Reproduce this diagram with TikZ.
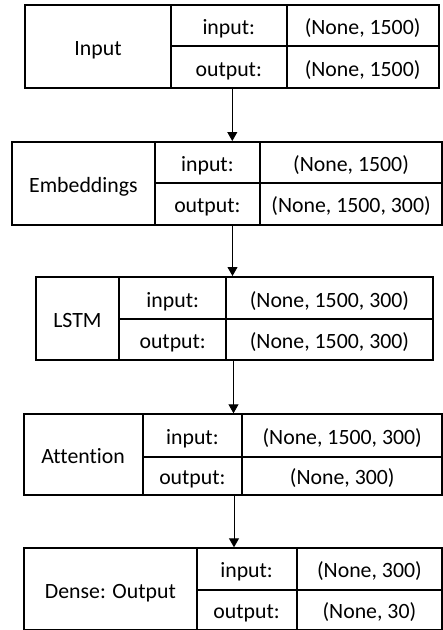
\documentclass[tikz,border=0pt]{standalone}
\usepackage{fontspec}
\setmainfont[Ligatures=NoCommon]{Carlito}
\usetikzlibrary{arrows.meta}
\tikzset{
  cell/.style={draw, line width=1.8pt, inner sep=0pt, anchor=north west,
    text height=20pt, text depth=2pt,
    font=\fontsize{21.8pt}{24pt}\selectfont},
  flow/.style={line width=0.9pt, -{Triangle[width=10pt,length=9pt]}}
}
% #1 id, #2 left, #3 div1, #4 div2, #5 right, #6 top, #7 mid, #8 bottom, #9 name
\newcommand\mylayer[9]{%
  \node[cell, minimum width=#3pt-#2pt, minimum height=#8pt-#6pt] (#1) at (#2pt,-#6pt) {#9};
  \node[cell, minimum width=#4pt-#3pt, minimum height=#7pt-#6pt] (#1-il) at (#3pt,-#6pt) {input:};
  \node[cell, minimum width=#5pt-#4pt, minimum height=#7pt-#6pt] (#1-iv) at (#4pt,-#6pt) {\vin};
  \node[cell, minimum width=#4pt-#3pt, minimum height=#8pt-#7pt] (#1-ol) at (#3pt,-#7pt) {output:};
  \node[cell, minimum width=#5pt-#4pt, minimum height=#8pt-#7pt] (#1-ov) at (#4pt,-#7pt) {\vout};
}
\begin{document}
\begin{tikzpicture}
\useasboundingbox (0,0) rectangle (443pt,-630pt);
\def\vin{(None, 1500)}\def\vout{(None, 1500)}
\mylayer{inp}{24.3}{170}{285.7}{437.7}{4}{45}{87.3}{Input}
\def\vin{(None, 1500)}\def\vout{(None, 1500, 300)}
\mylayer{emb}{11}{154}{259}{441.3}{141}{182}{223.7}{Embeddings}
\def\vin{(None, 1500, 300)}\def\vout{(None, 1500, 300)}
\mylayer{lstm}{34.7}{118.3}{225.3}{431.7}{276}{318.3}{359.3}{LSTM}
\def\vin{(None, 1500, 300)}\def\vout{(None, 300)}
\mylayer{att}{22.7}{141.7}{241.3}{441.3}{413.3}{455.7}{494}{Attention}
\def\vin{(None, 300)}\def\vout{(None, 30)}
\mylayer{den}{23.3}{195.7}{295.7}{441.3}{547.3}{588.7}{629}{Dense: Output}
\coordinate (x1) at (232.3pt,0);
\coordinate (x2) at (232.5pt,0);
\coordinate (x3) at (233.5pt,0);
\coordinate (x4) at (234pt,0);
\draw[flow] (inp-ol.south -| x1) -- (emb-il.north -| x1);
\draw[flow] (emb-ol.south -| x2) -- (lstm-iv.north -| x2);
\draw[flow] (lstm-ov.south -| x3) -- (att-il.north -| x3);
\draw[flow] (att-ol.south -| x4) -- (den-il.north -| x4);
\end{tikzpicture}
\end{document}
